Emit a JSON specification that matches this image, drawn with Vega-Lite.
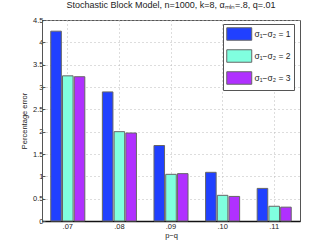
{
  "$schema": "https://vega.github.io/schema/vega-lite/v6.json",
  "width": 258,
  "height": 201,
  "autosize": "none",
  "padding": {"left": 42, "top": 20, "right": 32, "bottom": 28},
  "background": "white",
  "title": {
    "text": "Stochastic Block Model, n=1000, k=8, αₘᵢₙ=.8, q=.01",
    "fontSize": 9,
    "fontWeight": "normal",
    "font": "Liberation Sans",
    "color": "#222",
    "offset": 6
  },
  "config": {
    "font": "Liberation Sans",
    "view": {"stroke": "#555", "strokeWidth": 1}
  },
  "data": {
    "values": [
      {"pq": ".07", "s": "σ₁−σ₂ = 1", "v": 4.25},
      {"pq": ".07", "s": "σ₁−σ₂ = 2", "v": 3.25},
      {"pq": ".07", "s": "σ₁−σ₂ = 3", "v": 3.23},
      {"pq": ".08", "s": "σ₁−σ₂ = 1", "v": 2.89},
      {"pq": ".08", "s": "σ₁−σ₂ = 2", "v": 2.0},
      {"pq": ".08", "s": "σ₁−σ₂ = 3", "v": 1.97},
      {"pq": ".09", "s": "σ₁−σ₂ = 1", "v": 1.69},
      {"pq": ".09", "s": "σ₁−σ₂ = 2", "v": 1.045},
      {"pq": ".09", "s": "σ₁−σ₂ = 3", "v": 1.06},
      {"pq": ".10", "s": "σ₁−σ₂ = 1", "v": 1.09},
      {"pq": ".10", "s": "σ₁−σ₂ = 2", "v": 0.575},
      {"pq": ".10", "s": "σ₁−σ₂ = 3", "v": 0.55},
      {"pq": ".11", "s": "σ₁−σ₂ = 1", "v": 0.73},
      {"pq": ".11", "s": "σ₁−σ₂ = 2", "v": 0.33},
      {"pq": ".11", "s": "σ₁−σ₂ = 3", "v": 0.31}
    ]
  },
  "mark": {"type": "bar", "stroke": "#666", "strokeWidth": 1},
  "encoding": {
    "x": {
      "field": "pq",
      "type": "nominal",
      "sort": null,
      "scale": {"paddingInner": 0.34, "paddingOuter": 0.17},
      "axis": {
        "title": "p−q",
        "titleFontSize": 7.5,
        "titleFontWeight": "normal",
        "titleColor": "#222",
        "titlePadding": 2,
        "labelAngle": 0,
        "labelFontSize": 7.5,
        "labelColor": "#222",
        "labelPadding": 4,
        "grid": true,
        "gridColor": "#bbb",
        "gridDash": [1, 3],
        "ticks": true,
        "tickSize": -3,
        "tickColor": "#555",
        "domainColor": "#111",
        "domainWidth": 1.5
      }
    },
    "xOffset": {
      "field": "s",
      "type": "nominal",
      "scale": {"paddingInner": 0.1}
    },
    "y": {
      "field": "v",
      "type": "quantitative",
      "scale": {"domain": [0, 4.5], "nice": false},
      "axis": {
        "title": "Percentage error",
        "titleFontSize": 7.5,
        "titleFontWeight": "normal",
        "titleColor": "#222",
        "titlePadding": 4,
        "values": [0, 0.5, 1, 1.5, 2, 2.5, 3, 3.5, 4, 4.5],
        "format": ".1~f",
        "labelFontSize": 7.5,
        "labelColor": "#222",
        "labelPadding": 2,
        "grid": true,
        "gridColor": "#bbb",
        "gridDash": [1, 3],
        "tickSize": -3,
        "tickColor": "#555",
        "domainColor": "#555"
      }
    },
    "fill": {
      "field": "s",
      "type": "nominal",
      "scale": {"range": ["#2040ff", "#80ffdf", "#b030ff"]},
      "legend": {
        "title": null,
        "orient": "none",
        "legendX": 181,
        "legendY": 4,
        "strokeColor": "#555",
        "fillColor": "white",
        "padding": 3,
        "symbolType": "M-1,-1H3V1H-1Z",
        "symbolSize": 156,
        "symbolStrokeColor": "#666",
        "symbolStrokeWidth": 1,
        "symbolOpacity": 1,
        "labelFontSize": 8.5,
        "labelColor": "#222",
        "labelOffset": 14.5,
        "rowPadding": 4
      }
    }
  }
}
